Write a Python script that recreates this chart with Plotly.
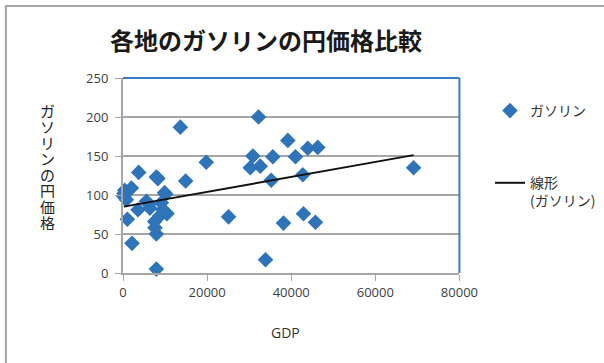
import numpy as np
import plotly.graph_objects as go

# GDP (x) and gasoline price in yen (y)
gdp = [200, 400, 2000, 240, 800, 1040, 2140, 3730, 3560, 5560, 6180,
       7930, 8300, 7530, 7930, 7930, 9900, 9120, 10300, 9500, 10450, 8700, 10150,
       6400, 7600,
       13630, 14900, 19800, 25100,
       32230, 30880, 30260, 32630, 33890, 35250, 35630, 38170, 39200, 41020,
       42760, 42920, 43940, 45770, 46320, 69100]
price = [98, 106, 109, 102, 94, 69, 38, 129, 81, 92, 88,
         123, 121, 66, 50, 5, 103, 90, 77, 81, 76, 73, 101,
         83, 58,
         187, 118, 142, 72,
         200, 150, 135, 137, 17, 119, 149, 64, 170, 149,
         126, 76, 160, 65, 161, 135]

title = "各地のガソリンの円価格比較"
series_name = "ガソリン"
trend_name = "線形<br>(ガソリン)"
x_title = "GDP"
y_title = "ガソリンの円価格"
x_ticks = [0, 20000, 40000, 60000, 80000]
y_ticks = [0, 50, 100, 150, 200, 250]

# linear trendline computed from the data
slope, intercept = np.polyfit(gdp, price, 1)
tx = [min(gdp), max(gdp)]
ty = [slope * v + intercept for v in tx]

JP = "Noto Sans CJK JP"
fig = go.Figure()
fig.add_trace(go.Scatter(
    x=gdp, y=price, mode="markers", name=series_name,
    marker=dict(symbol="diamond", size=12, color="#2f74b8"),
    legendgroup="a", cliponaxis=False))
fig.add_trace(go.Scatter(
    x=tx, y=ty, mode="lines", name=trend_name,
    line=dict(color="#111111", width=2), legendgroup="b"))

L, R, T, B = 123, 142, 78, 90
W, H = 604, 363
pw, ph = W - L - R, H - T - B

def px(xp):
    return (xp - L) / pw

def py(yp):
    return (H - B - yp) / ph

fig.update_layout(
    width=W, height=H,
    margin=dict(l=L, r=R, t=T, b=B, pad=0),
    paper_bgcolor="white", plot_bgcolor="white",
    font=dict(family="Open Sans, " + JP, size=13, color="#404040"),
    showlegend=True,
    legend=dict(xref="container", yref="container", x=490 / W, y=1 - 95 / H,
                xanchor="left", yanchor="top", valign="top",
                font=dict(family=JP, size=14, color="#333333"),
                traceorder="grouped", tracegroupgap=51,
                itemwidth=30, bgcolor="rgba(0,0,0,0)"),
    xaxis=dict(range=[0, 80000], tickvals=x_ticks, ticktext=[str(v) for v in x_ticks],
               showgrid=False, zeroline=False, showline=True, linecolor="#a6a6a6",
               linewidth=2, ticks="outside", ticklen=6, tickcolor="#a6a6a6",
               tickfont=dict(size=13, color="#404040")),
    yaxis=dict(range=[0, 250], tickvals=y_ticks, showgrid=True, gridcolor="#a6a6a6",
               gridwidth=2, zeroline=False, showline=True, linecolor="#a6a6a6",
               linewidth=2, ticks="outside", ticklen=6, tickcolor="#a6a6a6",
               ticklabelstandoff=4,
               tickfont=dict(size=13, color="#404040")),
)

shapes = [
    # outer chart border (left and top visible)
    dict(type="rect", xref="paper", yref="paper",
         x0=px(5), x1=px(640), y0=py(400), y1=py(6),
         line=dict(color="#a6a6a6", width=2), layer="below"),
    # plot-area blue border (top and right)
    dict(type="line", xref="paper", yref="paper", x0=0, x1=1, y0=1, y1=1,
         line=dict(color="#3a7cc4", width=2)),
    dict(type="line", xref="paper", yref="paper", x0=1, x1=1, y0=0, y1=1,
         line=dict(color="#3a7cc4", width=2)),
]
fig.update_layout(shapes=shapes)

ann = [
    dict(text="<b>" + title + "</b>", x=px(267), y=py(39), xref="paper", yref="paper",
         showarrow=False, font=dict(family=JP, size=24, color="#1a1a1a"),
         xanchor="center", yanchor="middle"),
    dict(text=x_title, x=px(287), y=py(332), xref="paper", yref="paper",
         showarrow=False, font=dict(family="Open Sans", size=14, color="#333333"),
         xanchor="center", yanchor="middle"),
]
# vertical (stacked, upright) y-axis title
y0, step = 110, 16
for i, ch in enumerate(y_title):
    ann.append(dict(text=ch, x=px(47), y=py(y0 + i * step), xref="paper", yref="paper",
                    showarrow=False, font=dict(family=JP, size=15, color="#262626"),
                    height=15, xanchor="center", yanchor="middle"))
fig.update_layout(annotations=ann)

fig.write_html("out.html")
